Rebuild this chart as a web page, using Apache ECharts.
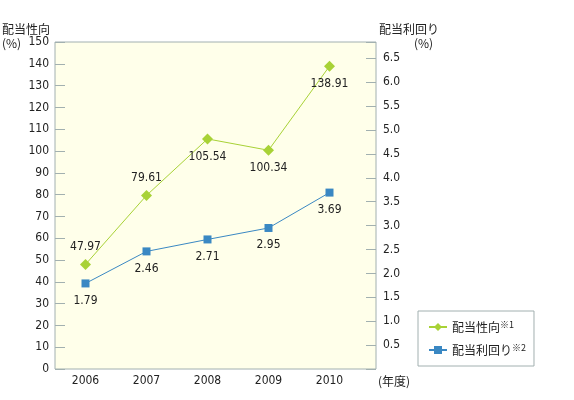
<!DOCTYPE html>
<html>
<head>
<meta charset="utf-8">
<script src="https://cdn.jsdelivr.net/npm/echarts@6/dist/echarts.min.js"></script>
<style>
  html, body { margin: 0; padding: 0; background: #fff; }
  #chart { width: 574px; height: 400px; }
</style>
</head>
<body>
<div id="chart"></div>
<script>
const years = ['2006', '2007', '2008', '2009', '2010']
const payoutRatio = [47.97, 79.61, 105.54, 100.34, 138.91]   // 配当性向 (%)
const dividendYield = [1.79, 2.46, 2.71, 2.95, 3.69]          // 配当利回り (%)
const payoutLabelPos = ['top', 'top', 'bottom', 'bottom', 'bottom']

const JP = '"Noto Sans CJK JP", sans-serif'
const NUM = '"DejaVu Sans Condensed", "Liberation Sans Narrow", "Liberation Sans", sans-serif'
const lineGray = '#a2b0b0'
const green = '#a8d236'
const blue = '#3a88c3'

const chart = echarts.init(document.getElementById('chart'))

const leftAxis = { min: 0, max: 150, interval: 10 }
const rightAxis = { min: 0, max: 6.84, interval: 0.5 }

chart.setOption({
  animation: false,
  grid: [
    // frame: background + border, holds the visible y axes
    { left: 55, right: 198, top: 42, bottom: 31, show: true, backgroundColor: '#ffffea', borderColor: lineGray, borderWidth: 1 },
    // data area: category axis stops short of the right axis
    { left: 55, right: 214, top: 42, bottom: 31 }
  ],
  xAxis: [
    { gridIndex: 0, type: 'category', data: years, show: false },
    {
      gridIndex: 1, type: 'category', data: years,
      axisLine: { show: false },
      axisTick: { inside: true, length: 10, lineStyle: { color: lineGray, width: 1 } },
      axisLabel: { fontFamily: NUM, fontSize: 12, color: '#222', margin: 6 }
    }
  ],
  yAxis: [
    {
      gridIndex: 0, type: 'value', position: 'left', ...leftAxis,
      axisLine: { show: false },
      axisTick: { show: true, inside: true, length: 10, lineStyle: { color: lineGray, width: 1 } },
      splitLine: { show: false },
      axisLabel: { fontFamily: NUM, fontSize: 12, color: '#222', margin: 6 }
    },
    {
      gridIndex: 0, type: 'value', position: 'right', ...rightAxis,
      axisLine: { show: false },
      axisTick: { show: true, inside: true, length: 10, lineStyle: { color: lineGray, width: 1 } },
      splitLine: { show: false },
      axisLabel: {
        fontFamily: NUM, fontSize: 12, color: '#222', margin: 7,
        formatter: v => (v > 0 && Math.abs(v * 2 - Math.round(v * 2)) < 1e-6) ? v.toFixed(1) : ''
      }
    },
    { gridIndex: 1, type: 'value', ...leftAxis, show: false },
    { gridIndex: 1, type: 'value', ...rightAxis, show: false }
  ],
  legend: {
    orient: 'vertical',
    left: 418, top: 311,
    padding: [9, 8, 10, 10],
    itemGap: 10,
    itemWidth: 18, itemHeight: 10,
    backgroundColor: '#fff',
    borderColor: lineGray, borderWidth: 1,
    data: ['配当性向', '配当利回り'],
    formatter: name => `{a|${name}}{b|${name === '配当性向' ? '※1' : '※2'}}`,
    textStyle: {
      rich: {
        a: { fontFamily: JP, fontSize: 12, color: '#222' },
        b: { fontFamily: JP, fontSize: 9, color: '#222', padding: [0, 0, 5, 0] }
      }
    }
  },
  graphic: [
    { type: 'text', x: 2, y: 29, style: { text: '配当性向', font: '12px ' + JP, fill: '#222', verticalAlign: 'middle' } },
    { type: 'text', x: 2, y: 43, style: { text: '(%)', font: '12px ' + JP, fill: '#222', verticalAlign: 'middle' } },
    { type: 'text', x: 379, y: 29, style: { text: '配当利回り', font: '12px ' + JP, fill: '#222', verticalAlign: 'middle' } },
    { type: 'text', x: 414, y: 43, style: { text: '(%)', font: '12px ' + JP, fill: '#222', verticalAlign: 'middle' } },
    { type: 'text', x: 378, y: 381, style: { text: '(年度)', font: '12px ' + JP, fill: '#222', verticalAlign: 'middle' } }
  ],
  series: [
    {
      name: '配当性向', type: 'line', xAxisIndex: 1, yAxisIndex: 2,
      data: payoutRatio.map((v, i) => ({ value: v, label: { position: payoutLabelPos[i] } })),
      symbol: 'diamond', symbolSize: 11,
      itemStyle: { color: green },
      lineStyle: { color: green, width: 1 },
      label: { show: true, fontFamily: NUM, fontSize: 12, color: '#222', distance: 6 }
    },
    {
      name: '配当利回り', type: 'line', xAxisIndex: 1, yAxisIndex: 3,
      data: dividendYield,
      symbol: 'rect', symbolSize: 8,
      itemStyle: { color: blue },
      lineStyle: { color: blue, width: 1 },
      label: { show: true, position: 'bottom', fontFamily: NUM, fontSize: 12, color: '#222', distance: 7 }
    }
  ]
})
</script>
</body>
</html>
